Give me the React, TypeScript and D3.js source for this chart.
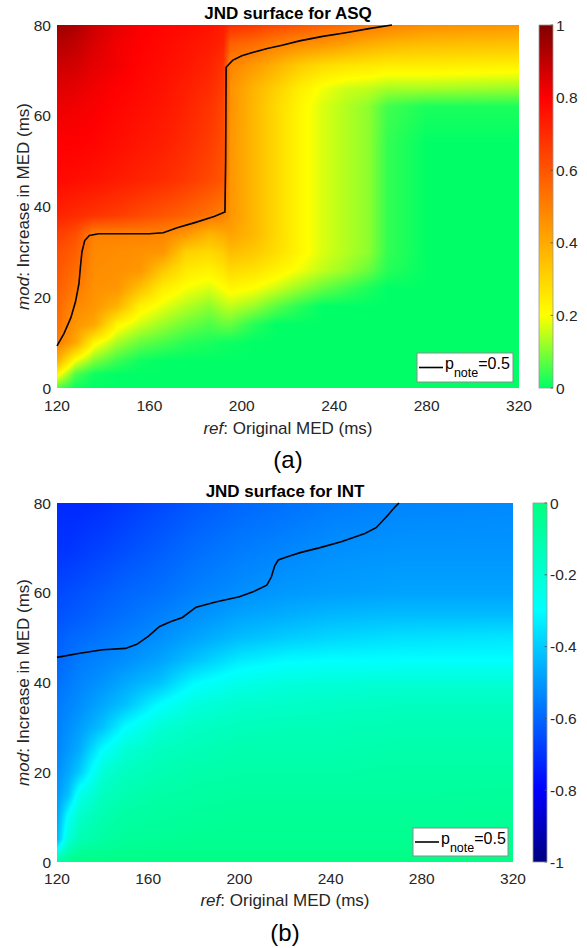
import React, { useMemo } from "react";
import * as d3 from "d3";

// ---------- ASQ surface (panel a) ----------
const ASQ_X = [120, 128, 136, 146, 156, 166, 176, 186, 192, 195, 205, 215, 225, 235, 245, 255, 263, 280, 320];
const ASQ_Y = [0, 3, 6, 10, 14, 18, 22, 26, 30, 34, 38, 46, 54, 62, 66, 71, 76, 80];
const ASQ_Z = [
  [0.06, 0.01, 0, 0, 0, 0, 0, 0, 0, 0, 0, 0, 0, 0, 0, 0, 0, 0, 0],
  [0.22, 0.06, 0.01, 0, 0, 0, 0, 0, 0, 0, 0, 0, 0, 0, 0, 0, 0, 0, 0],
  [0.39, 0.19, 0.1, 0.045, 0.01, 0, 0, 0, 0, 0, 0, 0, 0, 0, 0, 0, 0, 0, 0],
  [0.51, 0.41, 0.22, 0.13, 0.08, 0.055, 0.03, 0.02, 0.01, 0.01, 0, 0, 0, 0, 0, 0, 0, 0, 0],
  [0.54, 0.45, 0.41, 0.22, 0.16, 0.12, 0.085, 0.06, 0.08, 0.08, 0.03, 0, 0, 0, 0, 0, 0, 0, 0],
  [0.56, 0.48, 0.45, 0.38, 0.23, 0.18, 0.14, 0.11, 0.14, 0.15, 0.12, 0.07, 0.03, 0, 0, 0, 0, 0, 0],
  [0.58, 0.52, 0.46, 0.45, 0.35, 0.24, 0.195, 0.17, 0.2, 0.22, 0.2, 0.16, 0.12, 0.08, 0.05, 0.02, 0, 0, 0],
  [0.6, 0.55, 0.47, 0.46, 0.45, 0.33, 0.25, 0.23, 0.26, 0.29, 0.27, 0.23, 0.19, 0.15, 0.12, 0.08, 0.03, 0, 0],
  [0.62, 0.58, 0.48, 0.47, 0.46, 0.45, 0.31, 0.29, 0.32, 0.36, 0.33, 0.28, 0.22, 0.17, 0.14, 0.11, 0.04, 0, 0],
  [0.66, 0.62, 0.5, 0.5, 0.5, 0.49, 0.45, 0.38, 0.4, 0.42, 0.37, 0.29, 0.22, 0.17, 0.14, 0.11, 0.04, 0, 0],
  [0.72, 0.7, 0.68, 0.66, 0.63, 0.6, 0.57, 0.53, 0.5, 0.45, 0.37, 0.29, 0.22, 0.17, 0.14, 0.11, 0.04, 0, 0],
  [0.78, 0.77, 0.76, 0.74, 0.72, 0.7, 0.67, 0.63, 0.6, 0.45, 0.37, 0.29, 0.22, 0.17, 0.14, 0.11, 0.04, 0, 0],
  [0.8, 0.8, 0.79, 0.77, 0.75, 0.73, 0.7, 0.66, 0.62, 0.45, 0.37, 0.29, 0.22, 0.17, 0.14, 0.11, 0.04, 0, 0],
  [0.83, 0.82, 0.81, 0.79, 0.77, 0.75, 0.72, 0.68, 0.64, 0.46, 0.37, 0.29, 0.22, 0.17, 0.14, 0.11, 0.05, 0.02, 0.02],
  [0.85, 0.84, 0.82, 0.8, 0.78, 0.76, 0.73, 0.7, 0.66, 0.46, 0.38, 0.31, 0.24, 0.19, 0.16, 0.15, 0.13, 0.13, 0.12],
  [0.88, 0.87, 0.84, 0.82, 0.79, 0.77, 0.75, 0.72, 0.68, 0.49, 0.44, 0.38, 0.32, 0.28, 0.26, 0.25, 0.24, 0.24, 0.23],
  [0.92, 0.9, 0.86, 0.82, 0.8, 0.78, 0.76, 0.74, 0.72, 0.58, 0.55, 0.51, 0.48, 0.46, 0.43, 0.4, 0.38, 0.36, 0.35],
  [0.96, 0.93, 0.88, 0.84, 0.81, 0.79, 0.78, 0.76, 0.74, 0.7, 0.67, 0.63, 0.6, 0.57, 0.55, 0.52, 0.5, 0.47, 0.45],
];
const ASQ_CONTOUR_X = [120, 123, 126, 128, 129.5, 130.2, 130.8, 132, 134, 138, 150, 160, 166, 172, 180, 188, 192.7, 193, 193.2, 196, 200, 205, 211, 217, 225, 235, 245, 255, 265];
const ASQ_CONTOUR_Y = [9.3, 12, 15.5, 19, 23, 27, 30, 32.5, 33.6, 34, 34, 34, 34.2, 35.3, 36.5, 37.8, 38.8, 50, 70.7, 72.2, 73.2, 74, 74.8, 75.5, 76.5, 77.5, 78.3, 79.2, 80];
const ASQ_COLOR_STOPS = [0, 0.2, 0.5, 0.8, 1];
const ASQ_COLORS = ["#00ff66", "#ffff00", "#ff8000", "#ff0000", "#800000"];
const ASQ_CB_TICKS = [0, 0.2, 0.4, 0.6, 0.8, 1];

// ---------- INT surface (panel b) ----------
const INT_X = [120, 125, 130, 140, 150, 165, 180, 200, 220, 240, 270, 320];
const INT_Y = [0, 5, 10, 15, 20, 25, 30, 35, 40, 45, 50, 55, 60, 70, 80];
const INT_Z = [
  [-0.08, -0.03, -0.01, -0.01, -0.01, -0.01, -0.01, -0.01, -0.01, -0.01, -0.01, -0.01],
  [-0.45, -0.2, -0.12, -0.08, -0.06, -0.05, -0.04, -0.04, -0.04, -0.04, -0.04, -0.04],
  [-0.48, -0.28, -0.17, -0.11, -0.08, -0.07, -0.06, -0.05, -0.05, -0.05, -0.05, -0.05],
  [-0.5, -0.42, -0.25, -0.15, -0.11, -0.09, -0.08, -0.07, -0.07, -0.07, -0.07, -0.06],
  [-0.52, -0.47, -0.4, -0.2, -0.15, -0.12, -0.1, -0.09, -0.09, -0.09, -0.08, -0.08],
  [-0.54, -0.5, -0.46, -0.3, -0.2, -0.15, -0.13, -0.11, -0.11, -0.11, -0.1, -0.1],
  [-0.55, -0.52, -0.49, -0.42, -0.3, -0.2, -0.16, -0.14, -0.13, -0.13, -0.12, -0.12],
  [-0.56, -0.54, -0.52, -0.47, -0.42, -0.3, -0.22, -0.18, -0.17, -0.16, -0.15, -0.15],
  [-0.58, -0.56, -0.54, -0.51, -0.47, -0.42, -0.31, -0.25, -0.22, -0.21, -0.2, -0.2],
  [-0.6, -0.58, -0.56, -0.54, -0.52, -0.48, -0.42, -0.34, -0.31, -0.3, -0.3, -0.3],
  [-0.62, -0.6, -0.59, -0.57, -0.55, -0.52, -0.48, -0.43, -0.4, -0.38, -0.36, -0.35],
  [-0.64, -0.63, -0.62, -0.6, -0.58, -0.55, -0.52, -0.48, -0.46, -0.44, -0.43, -0.43],
  [-0.66, -0.65, -0.64, -0.62, -0.6, -0.58, -0.55, -0.52, -0.5, -0.49, -0.48, -0.48],
  [-0.7, -0.7, -0.69, -0.67, -0.65, -0.62, -0.59, -0.56, -0.54, -0.52, -0.51, -0.51],
  [-0.72, -0.72, -0.72, -0.71, -0.69, -0.66, -0.63, -0.6, -0.58, -0.56, -0.54, -0.53],
];
const INT_CONTOUR_X = [120, 130, 140, 150, 155, 160, 165, 170, 175, 181, 190, 200, 206, 212, 214, 215.5, 217, 222, 227, 235, 245, 255, 260, 265, 268, 270];
const INT_CONTOUR_Y = [45.6, 46.5, 47.3, 47.6, 48.5, 50.3, 52.5, 53.6, 54.5, 56.8, 58, 59.1, 60.2, 61.7, 63.5, 66, 67.3, 68.2, 69, 70, 71.4, 73.2, 74.5, 77.2, 79, 80];
const INT_COLOR_STOPS = [-1, -0.8, -0.3, 0];
const INT_COLORS = ["#000080", "#0000ff", "#00ffff", "#00ff80"];
const INT_CB_TICKS = [-1, -0.8, -0.6, -0.4, -0.2, 0];

// ---------- shared axis ticks ----------
const X_TICKS = [120, 160, 200, 240, 280, 320];
const Y_TICKS = [0, 20, 40, 60, 80];
const X_DOMAIN = [120, 320];
const Y_DOMAIN = [0, 80];

const FONT = "'Liberation Sans', Arial, Helvetica, sans-serif";

function rasterize(xs, ys, z, w, h, color) {
  if (typeof document === "undefined") return "";
  const canvas = document.createElement("canvas");
  canvas.width = w;
  canvas.height = h;
  const ctx = canvas.getContext("2d");
  if (!ctx) return "";
  const img = ctx.createImageData(w, h);
  const xi = d3.scaleLinear().domain(xs).range(d3.range(xs.length)).clamp(true);
  const yi = d3.scaleLinear().domain(ys).range(d3.range(ys.length)).clamp(true);
  const xOf = d3.scaleLinear().domain([0, w]).range(X_DOMAIN);
  const yOf = d3.scaleLinear().domain([0, h]).range([Y_DOMAIN[1], Y_DOMAIN[0]]);
  const nx = xs.length, ny = ys.length;
  for (let py = 0; py < h; py++) {
    const fy = yi(yOf(py + 0.5));
    const j0 = Math.min(Math.floor(fy), ny - 1);
    const j1 = Math.min(j0 + 1, ny - 1);
    const ty = fy - j0;
    for (let px = 0; px < w; px++) {
      const fx = xi(xOf(px + 0.5));
      const i0 = Math.min(Math.floor(fx), nx - 1);
      const i1 = Math.min(i0 + 1, nx - 1);
      const tx = fx - i0;
      const v =
        z[j0][i0] * (1 - tx) * (1 - ty) +
        z[j0][i1] * tx * (1 - ty) +
        z[j1][i0] * (1 - tx) * ty +
        z[j1][i1] * tx * ty;
      const c = d3.rgb(color(v));
      const k = (py * w + px) * 4;
      img.data[k] = c.r;
      img.data[k + 1] = c.g;
      img.data[k + 2] = c.b;
      img.data[k + 3] = 255;
    }
  }
  ctx.putImageData(img, 0, 0);
  return canvas.toDataURL();
}

function Panel({ cfg }) {
  const { left, right, top, bottom, cbLeft, cbRight, title, titleY, tickY, xlabelY, tag, tagY, legend, xs, ys, z, stops, colors, cbTicks, cX, cY, id } = cfg;
  const w = right - left;
  const h = bottom - top;
  const x = d3.scaleLinear().domain(X_DOMAIN).range([left, right]);
  const y = d3.scaleLinear().domain(Y_DOMAIN).range([bottom, top]);
  const color = d3.scaleLinear().domain(stops).range(colors).interpolate(d3.interpolateRgb).clamp(true);
  const href = useMemo(() => rasterize(xs, ys, z, w, h, color), []);
  const cbScale = d3.scaleLinear().domain([stops[0], stops[stops.length - 1]]).range([bottom, top]);
  const gradStops = d3.range(0, 1.0001, 0.02);
  const line = d3.line().x((d) => x(d[0])).y((d) => y(d[1]));
  const pts = cX.map((v, i) => [v, cY[i]]);
  const midX = (left + right) / 2;
  const midY = (top + bottom) / 2;
  return (
    <g>
      <defs>
        <linearGradient id={id} x1="0" y1="1" x2="0" y2="0">
          {gradStops.map((t) => (
            <stop key={t} offset={t} stopColor={color(stops[0] + t * (stops[stops.length - 1] - stops[0]))} />
          ))}
        </linearGradient>
      </defs>
      <image href={href} x={left} y={top} width={w} height={h} preserveAspectRatio="none" />
      <path d={line(pts)} fill="none" stroke="#000" strokeWidth={1.6} />
      <text x={midX} y={titleY} textAnchor="middle" fontFamily={FONT} fontWeight="bold" fontSize={17}>{title}</text>
      {X_TICKS.map((t) => (
        <text key={t} x={x(t)} y={tickY} textAnchor="middle" fontFamily={FONT} fontSize={15.5} fill="#262626">{t}</text>
      ))}
      {Y_TICKS.map((t) => (
        <text key={t} x={left - 6} y={y(t)} dy="0.36em" textAnchor="end" fontFamily={FONT} fontSize={15.5} fill="#262626">{t}</text>
      ))}
      <text x={midX} y={xlabelY} textAnchor="middle" fontFamily={FONT} fontSize={17} fill="#262626">
        <tspan fontStyle="italic">ref</tspan>: Original MED (ms)
      </text>
      <text transform={`translate(29,${midY}) rotate(-90)`} textAnchor="middle" fontFamily={FONT} fontSize={17} fill="#262626">
        <tspan fontStyle="italic">mod</tspan>: Increase in MED (ms)
      </text>
      <text x={midX} y={tagY} textAnchor="middle" fontFamily={FONT} fontSize={24} fill="#000">{tag}</text>
      {/* legend */}
      <rect x={legend.x} y={legend.y} width={legend.w} height={legend.h} fill="#fff" stroke="#8c8c8c" strokeWidth={1} />
      <line x1={legend.x + 2} x2={legend.x + 26} y1={legend.y + legend.h / 2} y2={legend.y + legend.h / 2} stroke="#000" strokeWidth={1.6} />
      <text x={legend.x + 28} y={legend.y + 16} fontFamily={FONT} fontSize={16} fill="#000">
        p<tspan fontSize={12.5} dy={7.5}>note</tspan>
        <tspan dy={-7.5}>=0.5</tspan>
      </text>
      {/* colorbar */}
      <rect x={cbLeft} y={top} width={cbRight - cbLeft} height={h} fill={`url(#${id})`} stroke="#9a9a9a" strokeWidth={0.8} />
      {cbTicks.map((t) => (
        <g key={t}>
          <line x1={cbRight - 2.5} x2={cbRight} y1={cbScale(t)} y2={cbScale(t)} stroke="#555" strokeWidth={0.8} />
          <text x={cbRight + 3} y={cbScale(t)} dy="0.36em" fontFamily={FONT} fontSize={15.5} fill="#262626">{t}</text>
        </g>
      ))}
    </g>
  );
}

export default function App() {
  const top = {
    id: "cbA", left: 57, right: 519, top: 25, bottom: 388, cbLeft: 539, cbRight: 553,
    title: "JND surface for ASQ", titleY: 18.5, tickY: 410.5, xlabelY: 434, tag: "(a)", tagY: 468,
    legend: { x: 417, y: 353, w: 96, h: 29 },
    xs: ASQ_X, ys: ASQ_Y, z: ASQ_Z, stops: ASQ_COLOR_STOPS, colors: ASQ_COLORS, cbTicks: ASQ_CB_TICKS,
    cX: ASQ_CONTOUR_X, cY: ASQ_CONTOUR_Y,
  };
  const bot = {
    id: "cbB", left: 57, right: 513, top: 503, bottom: 862, cbLeft: 533, cbRight: 547,
    title: "JND surface for INT", titleY: 497, tickY: 884, xlabelY: 906, tag: "(b)", tagY: 941,
    legend: { x: 413, y: 828, w: 95, h: 28 },
    xs: INT_X, ys: INT_Y, z: INT_Z, stops: INT_COLOR_STOPS, colors: INT_COLORS, cbTicks: INT_CB_TICKS,
    cX: INT_CONTOUR_X, cY: INT_CONTOUR_Y,
  };
  return (
    <svg width={587} height={948} style={{ position: "absolute", left: 0, top: 0, background: "#fff" }}>
      <rect width={587} height={948} fill="#fff" />
      <Panel cfg={top} />
      <Panel cfg={bot} />
    </svg>
  );
}
